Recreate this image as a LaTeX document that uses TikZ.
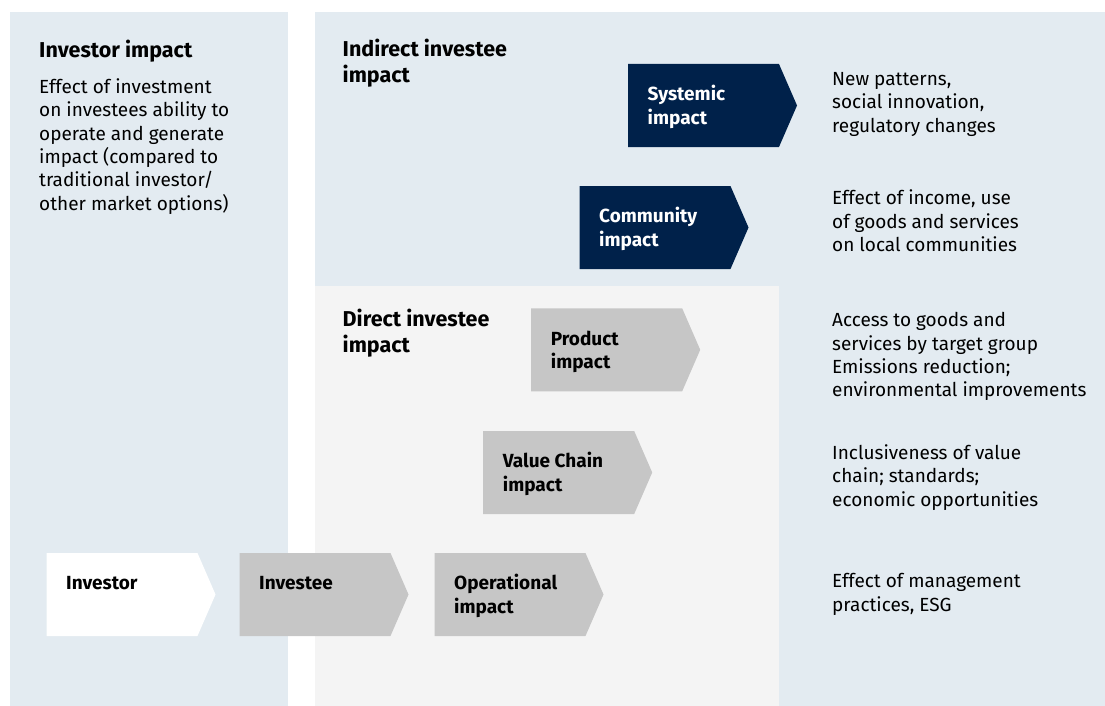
\documentclass[tikz,border=0pt]{standalone}
\usepackage{fontspec}
\setmainfont{Fira Sans}
\usetikzlibrary{shapes.symbols,positioning}

\definecolor{panelblue}{HTML}{E3EBF1}
\definecolor{panelgrey}{HTML}{F4F4F4}
\definecolor{chevgrey}{HTML}{C6C6C6}
\definecolor{navy}{HTML}{00214A}

\begin{document}
\begin{tikzpicture}[
    x=1pt, y=-1pt,
    chev/.style={signal, signal to=east, signal pointer angle=133, minimum width=169pt, minimum height=83pt, inner sep=0pt, draw=none},
    darkchev/.style={chev, fill=navy},
    greychev/.style={chev, fill=chevgrey},
    whitechev/.style={chev, fill=white},
    chevtext/.style={anchor=base west, align=left, inner sep=0pt, font=\fontsize{19}{23.5}\selectfont\bfseries},
    heading/.style={anchor=base west, align=left, inner sep=0pt, font=\fontsize{21.5}{26}\selectfont\bfseries},
    desc/.style={anchor=base west, align=left, inner sep=0pt, font=\fontsize{19}{23.4}\selectfont}
]
\useasboundingbox (0,0) rectangle (1105,706);

% Background panels
\fill[panelblue] (10,12) rectangle (288,706);
\fill[panelblue] (315,12) rectangle (1105,706);
\fill[panelgrey] (315,286) rectangle (779,706);

% Panel headings (anchored at the baseline of the last line)
\node[heading] (invhead) at (39,57.3) {Investor impact};
\node[desc] (invdesc) at (39,210.3) {Effect of investment\\on investees ability to\\operate and generate\\impact (compared to\\traditional investor/\\other market options)};
\node[heading] (indhead) at (342.5,82.7) {Indirect investee\\impact};
\node[heading] (dirhead) at (342.5,352) {Direct investee\\impact};

% Indirect impact chevrons
\node[darkchev] (systemic) at (703.5,105.5) {};
\node[chevtext, white] (systemictext) at (647.5,124.2) {Systemic\\impact};
\node[darkchev] (community) at (655,227.5) {};
\node[chevtext, white] (communitytext) at (599,246.2) {Community\\impact};

% Direct impact chevrons
\node[greychev] (product) at (606.7,349.8) {};
\node[chevtext] (producttext) at (550.7,368.5) {Product\\impact};
\node[greychev] (valuechain) at (558.7,472.5) {};
\node[chevtext] (valuechaintext) at (502.7,491.2) {Value Chain\\impact};
\node[greychev] (operational) at (510,594.5) {};
\node[chevtext] (operationaltext) at (454,613.2) {Operational\\impact};

% Investor and investee
\node[whitechev] (investor) at (122,594.5) {};
\node[chevtext] (investortext) at (66,589.7) {Investor};
\node[greychev] (investee) at (315,594.5) {};
\node[chevtext] (investeetext) at (259,589.7) {Investee};

% Descriptions
\node[desc] (sysdesc) at (832,132) {New patterns,\\social innovation,\\regulatory changes};
\node[desc] (comdesc) at (832,251.5) {Effect of income, use\\of goods and services\\on local communities};
\node[desc] (proddesc) at (832,396.9) {Access to goods and\\services by target group\\Emissions reduction;\\environmental improvements};
\node[desc] (vcdesc) at (832,506.1) {Inclusiveness of value\\chain; standards;\\economic opportunities};
\node[desc] (opdesc) at (832,611.1) {Effect of management\\practices, ESG};

\end{tikzpicture}
\end{document}
